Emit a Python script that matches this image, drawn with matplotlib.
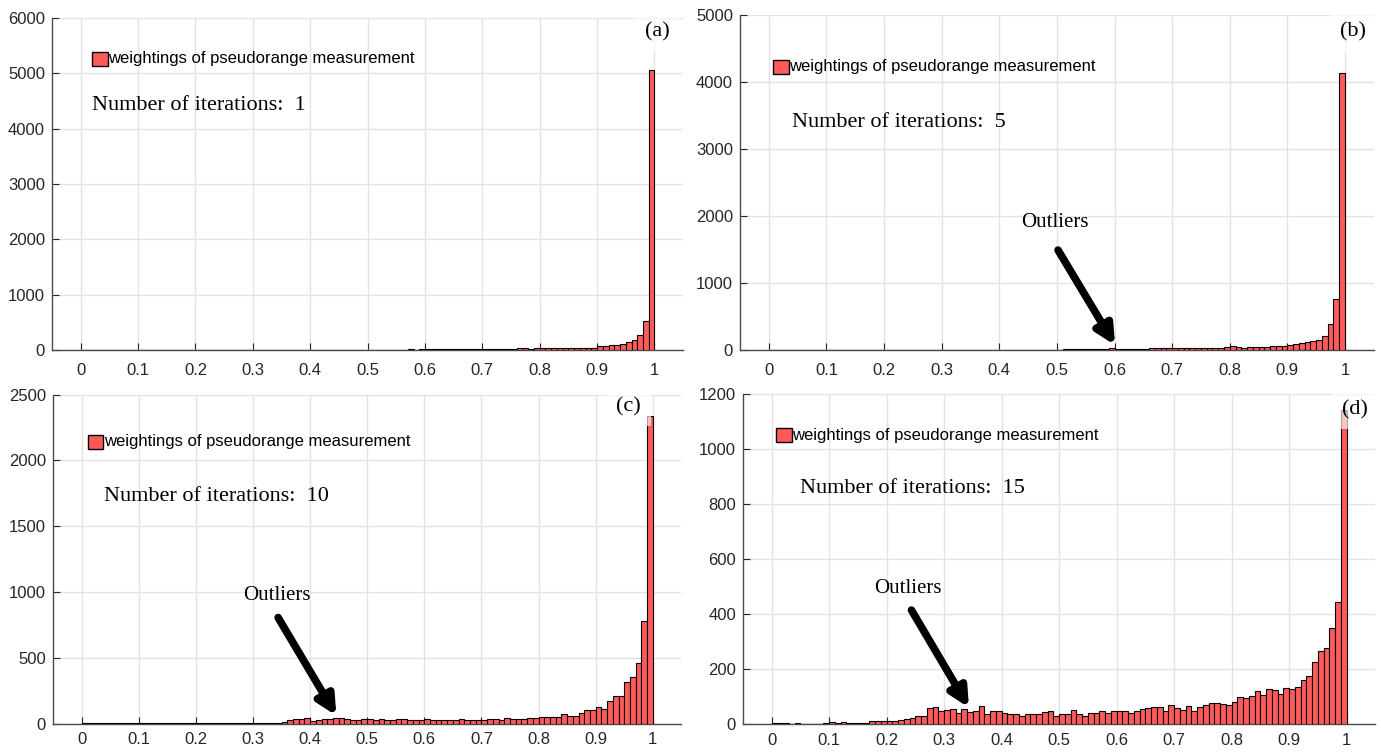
import numpy as np
import matplotlib
matplotlib.use("Agg")
from matplotlib import pyplot as plt

# histogram bins: 100 bins between 0 and 1
bin_edges = np.linspace(0, 1, 101)

counts_a = [0] * 50 + [
    6, 8, 8, 6, 8, 6, 10, 12, 10, 12,
    14, 15, 14, 16, 18, 20, 22, 20, 18, 16,
    20, 22, 24, 26, 25, 28, 30, 32, 28, 30,
    35, 30, 30, 32, 35, 38, 40, 42, 40, 45,
    70, 80, 85, 100, 110, 150, 190, 280, 520, 5070]

counts_b = [0] * 27 + [4, 5, 3] + [0] * 10 + [3, 0, 4, 5, 3, 6, 5, 4, 5, 6] + [
    8, 10, 10, 10, 12, 12, 14, 15, 20, 25,
    15, 12, 18, 20, 22, 22, 30, 30, 32, 30,
    30, 28, 28, 27, 30, 32, 30, 32, 35, 40,
    55, 45, 38, 40, 42, 45, 50, 55, 58, 60,
    70, 90, 110, 120, 140, 150, 210, 390, 770, 4130]

counts_c = [2] * 35 + [
    15, 28, 38, 35, 45, 22, 30, 35, 36, 40, 42, 33, 30, 28, 32,
    33, 28, 35, 30, 25, 35, 36, 30, 28, 27,
    34, 28, 30, 26, 30, 26, 35, 28, 26, 30,
    28, 33, 36, 30, 40, 34, 38, 35, 43, 45,
    48, 48, 48, 50, 71, 61, 61, 78, 106, 106,
    124, 114, 170, 212, 212, 314, 354, 458, 777, 2340]

counts_d = [
    6, 6, 4, 3, 5, 3, 3, 1, 2, 4,
    8, 6, 7, 5, 5, 5, 6, 12, 12, 13,
    14, 14, 17, 19, 23, 32, 30, 58, 62, 50,
    52, 55, 43, 56, 44, 48, 65, 36, 50, 50,
    42, 38, 38, 29, 37, 37, 38, 44, 48, 30,
    36, 38, 54, 38, 29, 43, 42, 50, 43, 50,
    50, 47, 41, 47, 55, 60, 62, 64, 50, 72,
    59, 53, 68, 50, 62, 72, 78, 79, 74, 71,
    80, 101, 94, 102, 120, 107, 128, 125, 110, 132,
    128, 137, 162, 176, 228, 266, 276, 350, 444, 1142]

panel_labels = ["(a)", "(b)", "(c)", "(d)"]
iterations = [1, 5, 10, 15]
y_max = [6000, 5000, 2500, 1200]
y_step = [1000, 1000, 500, 200]
x_ticks = [0, 0.1, 0.2, 0.3, 0.4, 0.5, 0.6, 0.7, 0.8, 0.9, 1]
x_ticklabels = ["0", "0.1", "0.2", "0.3", "0.4", "0.5", "0.6", "0.7", "0.8", "0.9", "1"]

legend_text = "weightings of pseudorange measurement"
bar_color = "#ff5a5a"

fig = plt.figure(figsize=(13.81, 7.53), dpi=100)

# axes rectangles in figure fractions (left, bottom, width, height)
rects = [
    [0.0377, 0.535, 0.457, 0.441],
    [0.5358, 0.535, 0.459, 0.445],
    [0.0384, 0.039, 0.455, 0.437],
    [0.5380, 0.038, 0.458, 0.439],
]
x_pad = [9, 9, 6, 6]
legend_pos = [(0.063, 0.877), (0.052, 0.845), (0.055, 0.856), (0.052, 0.875)]
text_pos = [(0.063, 0.738), (0.082, 0.678), (0.081, 0.689), (0.09, 0.714)]
label_pos = [(0.959, 0.958), (0.967, 0.949), (0.916, 0.964), (0.967, 0.952)]
# outlier annotations: (text xy, arrow tail, arrow tip) in data coords
outliers = [
    None,
    ((0.497, 1911), (0.502, 1493), (0.601, 75)),
    ((0.341, 973), (0.344, 806), (0.446, 61)),
    ((0.237, 494), (0.243, 415), (0.343, 61)),
]

all_counts = [counts_a, counts_b, counts_c, counts_d]

for k in range(4):
    ax = fig.add_axes(rects[k])
    ax.bar(bin_edges[:-1], all_counts[k], width=0.01, align="edge",
           color=bar_color, edgecolor="black", linewidth=0.8, zorder=3)
    ax.set_xlim(-0.05, 1.05)
    ax.set_ylim(0, y_max[k])
    ax.set_xticks(x_ticks)
    ax.set_xticklabels(x_ticklabels)
    ax.set_yticks(np.arange(0, y_max[k] + 1, y_step[k]))
    ax.tick_params(direction="in", length=5, labelsize=12, colors="#262626",
                   labelfontfamily="Liberation Sans")
    ax.tick_params(axis="x", pad=x_pad[k])
    ax.tick_params(axis="y", pad=5)
    ax.grid(True, color="#e3e3e3", linewidth=1.0, zorder=0)
    ax.set_axisbelow(True)
    for side in ["top", "right"]:
        ax.spines[side].set_visible(False)
    for side in ["left", "bottom"]:
        ax.spines[side].set_color("#4a4a4a")
        ax.spines[side].set_linewidth(1.0)

    # legend-like entry without frame
    lx, ly = legend_pos[k]
    ax.add_patch(plt.Rectangle((lx, ly - 0.02), 0.025, 0.042, transform=ax.transAxes,
                               facecolor=bar_color, edgecolor="black", lw=1.0, zorder=5))
    ax.text(lx + 0.026, ly, legend_text, transform=ax.transAxes, va="center", ha="left",
            fontsize=12, family="Liberation Sans", zorder=5)

    tx, ty = text_pos[k]
    ax.text(tx, ty, "Number of iterations:  %d" % iterations[k], transform=ax.transAxes,
            va="center", ha="left", fontsize=16, family="Liberation Serif", zorder=5)

    px, py = label_pos[k]
    ax.text(px, py, panel_labels[k], transform=ax.transAxes, va="center", ha="center",
            fontsize=16, family="Liberation Serif", zorder=6,
            bbox=dict(facecolor="white", alpha=0.65, edgecolor="none", pad=7))

    if outliers[k] is not None:
        txt, tail, tip = outliers[k]
        ax.text(txt[0], txt[1], "Outliers", ha="center", va="center",
                fontsize=15, family="Liberation Serif", zorder=6)
        ax.annotate("", xy=tip, xytext=tail,
                    arrowprops=dict(arrowstyle="-|>", lw=5.5, color="black",
                                    mutation_scale=28, shrinkA=0, shrinkB=0),
                    zorder=6)

fig.savefig("out.png", dpi=100)
